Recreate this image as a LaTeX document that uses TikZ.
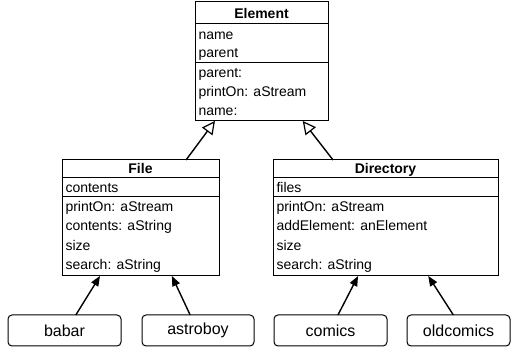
\documentclass[tikz,border=0pt]{standalone}
\usepackage{fontspec}
\setmainfont{Liberation Sans}
\usetikzlibrary{arrows.meta,calc}
\begin{document}
\begin{tikzpicture}[x=1pt,y=-1pt,line width=1pt,
  cls/.style={draw,anchor=north west,inner sep=0pt,outer sep=0pt},
  txt/.style={anchor=base west,inner sep=0pt,font=\fontsize{14}{16}\selectfont},
  ttl/.style={anchor=base,inner sep=0pt,font=\fontsize{14}{16}\selectfont\bfseries},
  inst/.style={draw,rounded corners=4pt,anchor=north west,inner sep=0pt,outer sep=0pt,font=\fontsize{16}{18}\selectfont},
  inh/.style={line width=1.4pt,-{Triangle[open,length=13pt,width=13pt,line width=1.2pt]}},
  ref/.style={line width=1.4pt,-{Triangle[length=10pt,width=8pt]}}]
\useasboundingbox (0,0) rectangle (512,347);
% Element
\node[cls,minimum width=133pt,minimum height=119pt] (element) at (195,2) {};
\draw (195,24) -- (328,24);
\draw (195,63) -- (328,63);
\node[ttl] (et) at (261.5,18.5) {Element};
\node[txt] (e1) at (198,39.5) {name};
\node[txt] (e2) at (198,58) {parent};
\node[txt] (e3) at (198,77.5) {parent:};
\node[txt] (e4) at (198,96.5) {printOn: aStream};
\node[txt] (e5) at (198,115.5) {name:};
% File
\node[cls,minimum width=157pt,minimum height=116pt] (file) at (62,160) {};
\draw (62,178) -- (219,178);
\draw (62,197) -- (219,197);
\node[ttl] (ft) at (140.5,174) {File};
\node[txt] (f1) at (65,192.5) {contents};
\node[txt] (f2) at (65,211.5) {printOn: aStream};
\node[txt] (f3) at (65,231) {contents: aString};
\node[txt] (f4) at (65,250.5) {size};
\node[txt] (f5) at (65,270) {search: aString};
% Directory
\node[cls,minimum width=225pt,minimum height=116pt] (dir) at (273,160) {};
\draw (273,178) -- (498,178);
\draw (273,197) -- (498,197);
\node[ttl] (dt) at (385.5,174) {Directory};
\node[txt] (d1) at (276,192.5) {files};
\node[txt] (d2) at (276,211.5) {printOn: aStream};
\node[txt] (d3) at (276,231) {addElement: anElement};
\node[txt] (d4) at (276,250.5) {size};
\node[txt] (d5) at (276,270) {search: aString};
% instances
\node[inst,minimum width=113pt,minimum height=31pt] (babar) at (8,315) {babar};
\node[inst,minimum width=112pt,minimum height=31pt] (astroboy) at (142,315) {astroboy};
\node[inst,minimum width=113pt,minimum height=31pt] (comics) at (274,315) {comics};
\node[inst,minimum width=103pt,minimum height=31pt] (oldcomics) at (407,315) {oldcomics};
% inheritance
\draw[inh] ($(file.north west)!0.79!(file.north east)$) -- ($(element.south west)!0.15!(element.south east)$);
\draw[inh] ($(dir.north west)!0.267!(dir.north east)$) -- ($(element.south west)!0.81!(element.south east)$);
% references
\draw[ref] ($(babar.north west)!0.6!(babar.north east)$) -- ($(file.south west)!0.242!(file.south east)$);
\draw[ref] ($(astroboy.north west)!0.43!(astroboy.north east)$) -- ($(file.south west)!0.70!(file.south east)$);
\draw[ref] ($(comics.north west)!0.566!(comics.north east)$) -- ($(dir.south west)!0.378!(dir.south east)$);
\draw[ref] ($(oldcomics.north west)!0.45!(oldcomics.north east)$) -- ($(dir.south west)!0.69!(dir.south east)$);
\end{tikzpicture}
\end{document}
